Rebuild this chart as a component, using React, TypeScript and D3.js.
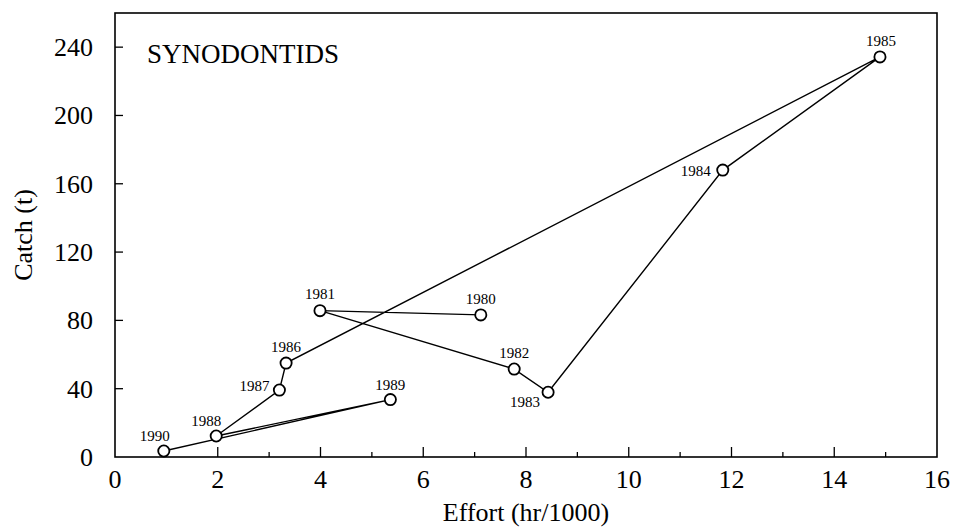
import React, { useEffect, useRef } from "react";
import * as d3 from "d3";

// catch vs effort, one point per year
const years = [1980, 1981, 1982, 1983, 1984, 1985, 1986, 1987, 1988, 1989, 1990];
const effort = [7.12, 3.99, 7.77, 8.43, 11.83, 14.89, 3.33, 3.2, 1.97, 5.36, 0.95];
const catchT = [83.2, 85.7, 51.5, 37.9, 168, 234.3, 55, 39.2, 12.3, 33.6, 3.5];

const xTicks = [0, 2, 4, 6, 8, 10, 12, 14, 16];
const xMinorTicks = [1, 3, 5, 7, 9, 11, 13, 15];
const yTicks = [0, 40, 80, 120, 160, 200, 240];

// where each year label sits relative to its marker
const labelPlace: Record<number, { dx: number; dy: number; anchor: string }> = {
  1980: { dx: 0, dy: -11, anchor: "middle" },
  1981: { dx: 0, dy: -12, anchor: "middle" },
  1982: { dx: 0, dy: -11, anchor: "middle" },
  1983: { dx: -8, dy: 15, anchor: "end" },
  1984: { dx: -12, dy: 6, anchor: "end" },
  1985: { dx: 1, dy: -11, anchor: "middle" },
  1986: { dx: 0, dy: -11, anchor: "middle" },
  1987: { dx: -10, dy: 1, anchor: "end" },
  1988: { dx: -10, dy: -10, anchor: "middle" },
  1989: { dx: 0, dy: -10, anchor: "middle" },
  1990: { dx: -9, dy: -10, anchor: "middle" },
};

const W = 953;
const H = 529;
const margin = { top: 13, right: 16, bottom: 72, left: 115 };
const font = "Liberation Serif";

export default function App() {
  const ref = useRef<SVGSVGElement>(null);

  useEffect(() => {
    const svg = d3.select(ref.current);
    svg.selectAll("*").remove();

    const x = d3.scaleLinear().domain([0, 16]).range([margin.left, W - margin.right]);
    const y = d3.scaleLinear().domain([0, 260]).range([H - margin.bottom, margin.top]);
    const [x0, x1] = x.range();
    const [y0, y1] = y.range();

    const pts = years.map((yr, i) => ({ yr, e: effort[i], c: catchT[i] }));

    // frame
    svg.append("rect")
      .attr("x", x0).attr("y", y1)
      .attr("width", x1 - x0).attr("height", y0 - y1)
      .attr("fill", "none").attr("stroke", "#000").attr("stroke-width", 1.6);

    // x ticks (inward)
    svg.append("g").selectAll("line")
      .data(xTicks.slice(1, -1))
      .join("line")
      .attr("x1", (d) => x(d)).attr("x2", (d) => x(d))
      .attr("y1", y0).attr("y2", y0 - 10)
      .attr("stroke", "#000").attr("stroke-width", 1.3);
    svg.append("g").selectAll("line")
      .data(xMinorTicks)
      .join("line")
      .attr("x1", (d) => x(d)).attr("x2", (d) => x(d))
      .attr("y1", y0).attr("y2", y0 - 5)
      .attr("stroke", "#000").attr("stroke-width", 1.3);
    svg.append("g").selectAll("text")
      .data(xTicks)
      .join("text")
      .attr("x", (d) => x(d)).attr("y", y0 + 31)
      .attr("text-anchor", "middle")
      .style("font-family", font).style("font-size", "26px")
      .text((d) => d);

    // y ticks (inward)
    svg.append("g").selectAll("line")
      .data(yTicks.slice(1))
      .join("line")
      .attr("x1", x0).attr("x2", x0 + 8)
      .attr("y1", (d) => y(d)).attr("y2", (d) => y(d))
      .attr("stroke", "#000").attr("stroke-width", 1.3);
    svg.append("g").selectAll("text")
      .data(yTicks)
      .join("text")
      .attr("x", x0 - 22).attr("y", (d) => y(d) + 9)
      .attr("text-anchor", "end")
      .style("font-family", font).style("font-size", "26px")
      .text((d) => d);

    // axis titles
    svg.append("text")
      .attr("x", (x0 + x1) / 2).attr("y", 521)
      .attr("text-anchor", "middle")
      .style("font-family", font).style("font-size", "26px")
      .text("Effort (hr/1000)");
    svg.append("text")
      .attr("transform", `translate(32, ${(y0 + y1) / 2}) rotate(-90)`)
      .attr("text-anchor", "middle")
      .style("font-family", font).style("font-size", "26px")
      .text("Catch (t)");

    // panel title
    svg.append("text")
      .attr("x", 147).attr("y", 63)
      .style("font-family", font).style("font-size", "27px")
      .text("SYNODONTIDS");

    // trajectory
    const line = d3.line<{ e: number; c: number }>().x((d) => x(d.e)).y((d) => y(d.c));
    svg.append("path")
      .datum(pts)
      .attr("d", line)
      .attr("fill", "none").attr("stroke", "#000").attr("stroke-width", 1.4);

    svg.append("g").selectAll("circle")
      .data(pts)
      .join("circle")
      .attr("cx", (d) => x(d.e)).attr("cy", (d) => y(d.c))
      .attr("r", 5.6)
      .attr("fill", "#fff").attr("stroke", "#000").attr("stroke-width", 1.8);

    svg.append("g").selectAll("text")
      .data(pts)
      .join("text")
      .attr("x", (d) => x(d.e) + labelPlace[d.yr].dx)
      .attr("y", (d) => y(d.c) + labelPlace[d.yr].dy)
      .attr("text-anchor", (d) => labelPlace[d.yr].anchor)
      .style("font-family", font).style("font-size", "15px")
      .text((d) => d.yr);
  }, []);

  return (
    <svg
      ref={ref}
      width={W}
      height={H}
      style={{ position: "absolute", left: 0, top: 0, background: "#fff" }}
    />
  );
}
